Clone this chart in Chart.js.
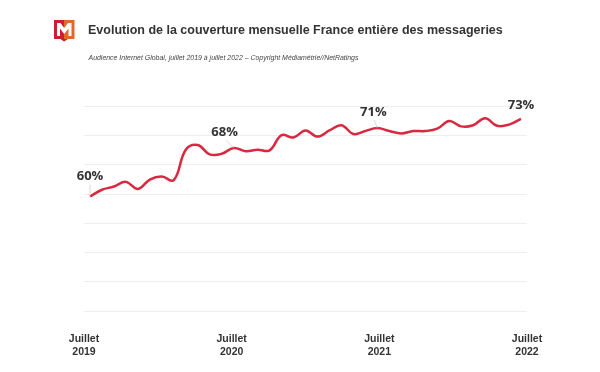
<!DOCTYPE html>
<html lang="fr">
<head>
<meta charset="utf-8">
<title>Couverture mensuelle des messageries</title>
<script src="https://cdn.jsdelivr.net/npm/chart.js@4"></script>
<style>
  html, body { margin: 0; padding: 0; background: #fff; }
  #page { position: relative; width: 600px; height: 372px; overflow: hidden; font-family: "Liberation Sans", Arial, sans-serif; }
  #chart { position: absolute; left: 0; top: 0; }
  #logo { position: absolute; left: 54px; top: 20px; }
  h1 { position: absolute; left: 88px; top: 22px; margin: 0; font-size: 12.5px; line-height: 17px; font-weight: bold; color: #333; white-space: nowrap; }
  p { position: absolute; left: 88.5px; top: 53px; margin: 0; font-size: 6.95px; line-height: 10px; font-style: italic; color: #444; white-space: nowrap; }
</style>
</head>
<body>
<div id="page">
  <canvas id="chart" width="600" height="372"></canvas>
  <svg id="logo" width="21" height="22" viewBox="0 0 21 22">
    <path d="M0 0H10V19H0Z" fill="#c8202f"/>
    <path d="M10 0H20.5V19H10Z" fill="#e2672c"/>
    <path d="M6.5 19H14L10 21.5Z" fill="#c8202f"/>
    <path d="M3 16V3H6.5L10.2 8L14 3H17.5V16H14.5V8.5L10.2 14L6 8.5V16Z" fill="#fff"/>
  </svg>
  <h1>Evolution de la couverture mensuelle France entière des messageries</h1>
  <p>Audience Internet Global, juillet 2019 à juillet 2022 – Copyright Médiamétrie//NetRatings</p>
</div>
<script>
  "use strict";

  const months = [
    "07/19", "08/19", "09/19", "10/19", "11/19", "12/19", "01/20", "02/20", "03/20", "04/20", "05/20", "06/20",
    "07/20", "08/20", "09/20", "10/20", "11/20", "12/20", "01/21", "02/21", "03/21", "04/21", "05/21", "06/21",
    "07/21", "08/21", "09/21", "10/21", "11/21", "12/21", "01/22", "02/22", "03/22", "04/22", "05/22", "06/22",
    "07/22"
  ];
  const coverage = [
    59.6, 60.75, 61.3, 62.1, 60.9, 62.5, 63.0, 62.4, 67.6, 68.4, 66.8, 66.9,
    67.9, 67.35, 67.6, 67.5, 70.1, 69.7, 70.9, 69.85, 70.9, 71.8, 70.3, 70.8,
    71.3, 70.8, 70.4, 70.8, 70.8, 71.2, 72.5, 71.6, 71.8, 73.0, 71.7, 71.9,
    72.9
  ];
  const yearLabels = [
    ["Juillet", "2019"],
    ["Juillet", "2020"],
    ["Juillet", "2021"],
    ["Juillet", "2022"]
  ];
  const calloutMonths = ["07/19", "07/20", "07/21", "07/22"];
  const calloutTexts = ["60%", "68%", "71%", "73%"];

  // where each callout sits relative to its point, and whether it has a leader
  const calloutOffsets = [
    { dx: 0, dy: -20, lx: 0, ly: -12 },
    { dx: -9, dy: -16, lx: -8, ly: -8 },
    { dx: -4, dy: -16, lx: -3, ly: -8 },
    { dx: 0, dy: -13, lx: 0, ly: 0 }
  ];

  const callouts = {
    id: "callouts",
    afterDatasetsDraw(chart) {
      const ctx = chart.ctx;
      const xs = chart.scales.x;
      const ys = chart.scales.y;
      ctx.save();
      ctx.font = 'bold 13px "Open Sans", sans-serif';
      ctx.textAlign = "center";
      ctx.textBaseline = "middle";
      calloutMonths.forEach((m, i) => {
        const idx = months.indexOf(m);
        const x = xs.getPixelForValue(idx);
        const y = ys.getPixelForValue(coverage[idx]);
        const o = calloutOffsets[i];
        if (o.ly !== 0) {
          ctx.strokeStyle = "#ccc";
          ctx.lineWidth = 0.7;
          ctx.beginPath();
          ctx.moveTo(x, y);
          ctx.lineTo(x + o.lx, y + o.ly);
          ctx.stroke();
        }
        ctx.fillStyle = "#333";
        ctx.fillText(calloutTexts[i], x + o.dx, y + o.dy);
      });
      ctx.restore();
    }
  };

  new Chart(document.getElementById("chart").getContext("2d"), {
    type: "line",
    data: {
      labels: months,
      datasets: [
        {
          data: coverage,
          borderColor: "#d9283f",
          borderWidth: 2.5,
          tension: 0.4,
          pointRadius: 0,
          fill: false
        }
      ]
    },
    plugins: [callouts],
    options: {
      responsive: false,
      animation: false,
      layout: { padding: { left: 84, right: 73, top: 106.5, bottom: 0 } },
      plugins: { legend: { display: false }, tooltip: { enabled: false } },
      scales: {
        x: {
          offset: true,
          display: false
        },
        years: {
          type: "category",
          axis: "x",
          position: "bottom",
          labels: yearLabels,
          offset: false,
          grid: { display: false },
          border: { display: false },
          ticks: {
            autoSkip: false,
            maxRotation: 0,
            minRotation: 0,
            padding: 14,
            color: "#333",
            font: { family: '"Liberation Sans", Arial, sans-serif', size: 10.5, weight: "bold", lineHeight: 1.2 }
          },
          afterFit(scale) {
            scale.height = 61;
          }
        },
        y: {
          min: 40,
          max: 75,
          ticks: { stepSize: 5, display: false },
          border: { display: false },
          grid: { color: "#eeeeee", lineWidth: 1, drawTicks: false },
          afterFit(scale) {
            scale.width = 0;
          }
        }
      }
    }
  });
</script>
</body>
</html>
